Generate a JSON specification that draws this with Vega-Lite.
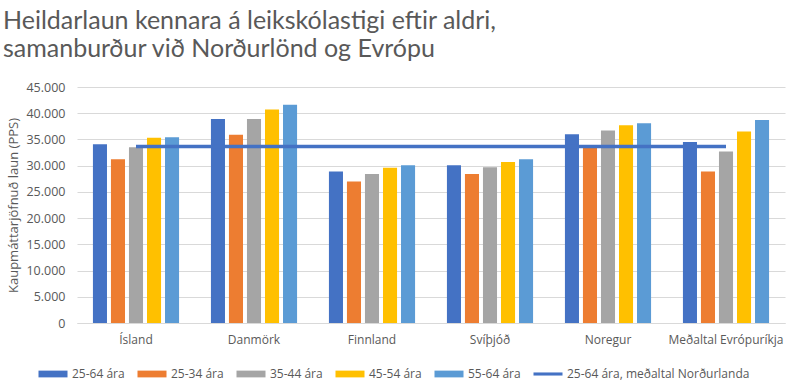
{
  "$schema": "https://vega.github.io/schema/vega-lite/v6.json",
  "width": 708,
  "height": 236,
  "autosize": {"type": "none"},
  "padding": {"left": 77, "top": 87, "right": 15, "bottom": 65},
  "background": "white",
  "title": {
    "text": ["Heildarlaun kennara á leikskólastigi eftir aldri,", "samanburður við Norðurlönd og Evrópu"],
    "anchor": "start",
    "frame": "bounds",
    "font": "Lato",
    "fontSize": 25,
    "fontWeight": "normal",
    "color": "#595959",
    "lineHeight": 28.5,
    "offset": 19,
    "dx": -5
  },
  "config": {
    "locale": {"number": {"decimal": ",", "thousands": ".", "grouping": [3], "currency": ["", " kr."]}},
    "view": {"stroke": null},
    "font": "Open Sans"
  },
  "datasets": {
    "bars": [
      {"land": "Ísland", "series": "25-64 ára", "value": 34100},
      {"land": "Ísland", "series": "25-34 ára", "value": 31200},
      {"land": "Ísland", "series": "35-44 ára", "value": 33500},
      {"land": "Ísland", "series": "45-54 ára", "value": 35300},
      {"land": "Ísland", "series": "55-64 ára", "value": 35400},
      {"land": "Danmörk", "series": "25-64 ára", "value": 38900},
      {"land": "Danmörk", "series": "25-34 ára", "value": 35900},
      {"land": "Danmörk", "series": "35-44 ára", "value": 38900},
      {"land": "Danmörk", "series": "45-54 ára", "value": 40700},
      {"land": "Danmörk", "series": "55-64 ára", "value": 41600},
      {"land": "Finnland", "series": "25-64 ára", "value": 28900},
      {"land": "Finnland", "series": "25-34 ára", "value": 27000},
      {"land": "Finnland", "series": "35-44 ára", "value": 28400},
      {"land": "Finnland", "series": "45-54 ára", "value": 29600},
      {"land": "Finnland", "series": "55-64 ára", "value": 30100},
      {"land": "Svíþjóð", "series": "25-64 ára", "value": 30100},
      {"land": "Svíþjóð", "series": "25-34 ára", "value": 28400},
      {"land": "Svíþjóð", "series": "35-44 ára", "value": 29700},
      {"land": "Svíþjóð", "series": "45-54 ára", "value": 30700},
      {"land": "Svíþjóð", "series": "55-64 ára", "value": 31200},
      {"land": "Noregur", "series": "25-64 ára", "value": 36000},
      {"land": "Noregur", "series": "25-34 ára", "value": 33600},
      {"land": "Noregur", "series": "35-44 ára", "value": 36700},
      {"land": "Noregur", "series": "45-54 ára", "value": 37700},
      {"land": "Noregur", "series": "55-64 ára", "value": 38100},
      {"land": "Meðaltal Evrópuríkja", "series": "25-64 ára", "value": 34500},
      {"land": "Meðaltal Evrópuríkja", "series": "25-34 ára", "value": 28900},
      {"land": "Meðaltal Evrópuríkja", "series": "35-44 ára", "value": 32700},
      {"land": "Meðaltal Evrópuríkja", "series": "45-54 ára", "value": 36500},
      {"land": "Meðaltal Evrópuríkja", "series": "55-64 ára", "value": 38700}
    ],
    "line": [
      {"land": "Ísland", "series": "25-64 ára, meðaltal Norðurlanda", "value": 33650},
      {"land": "Danmörk", "series": "25-64 ára, meðaltal Norðurlanda", "value": 33650},
      {"land": "Finnland", "series": "25-64 ára, meðaltal Norðurlanda", "value": 33650},
      {"land": "Svíþjóð", "series": "25-64 ára, meðaltal Norðurlanda", "value": 33650},
      {"land": "Noregur", "series": "25-64 ára, meðaltal Norðurlanda", "value": 33650},
      {"land": "Meðaltal Evrópuríkja", "series": "25-64 ára, meðaltal Norðurlanda", "value": 33650}
    ]
  },
  "encoding": {
    "x": {
      "field": "land",
      "type": "nominal",
      "sort": ["Ísland", "Danmörk", "Finnland", "Svíþjóð", "Noregur", "Meðaltal Evrópuríkja"],
      "scale": {"paddingInner": 0.27, "paddingOuter": 0.135},
      "axis": {
        "title": null,
        "labelAngle": 0,
        "labelFontSize": 12,
        "labelColor": "#595959",
        "labelPadding": 11,
        "ticks": false,
        "domainColor": "#d9d9d9",
        "domainWidth": 1
      }
    },
    "y": {
      "field": "value",
      "type": "quantitative",
      "scale": {"domain": [0, 45000], "nice": false},
      "axis": {
        "title": "Kaupmáttarjöfnuð laun (PPS)",
        "titleFontSize": 13,
        "titleFontWeight": "normal",
        "titleColor": "#595959",
        "titlePadding": 5,
        "values": [0, 5000, 10000, 15000, 20000, 25000, 30000, 35000, 40000, 45000],
        "format": ",d",
        "labelFontSize": 12.5,
        "labelColor": "#595959",
        "labelPadding": 12,
        "ticks": false,
        "domain": false,
        "gridColor": "#d9d9d9",
        "gridWidth": 1
      }
    },
    "color": {
      "field": "series",
      "type": "nominal",
      "scale": {
        "domain": ["25-64 ára", "25-34 ára", "35-44 ára", "45-54 ára", "55-64 ára", "25-64 ára, meðaltal Norðurlanda"],
        "range": ["#4472C4", "#ED7D31", "#A5A5A5", "#FFC000", "#5B9BD5", "#4472C4"]
      },
      "legend": {
        "title": null,
        "orient": "none",
        "direction": "horizontal",
        "columns": 6,
        "legendX": -34,
        "legendY": 277,
        "labelFontSize": 12,
        "labelColor": "#595959",
        "labelLimit": 0,
        "symbolSize": 374,
        "labelOffset": 9,
        "columnPadding": 12,
        "gridAlign": "none",
        "encode": {
          "symbols": {
            "update": {
              "shape": {"signal": "datum.value === '25-64 ára, meðaltal Norðurlanda' ? 'M-1.5,-0.16H1.5V0.16H-1.5Z' : 'M-1.5,-0.35H1.5V0.35H-1.5Z'"},
              "fill": {"signal": "scale('color', datum.value)"},
              "strokeWidth": {"value": 0},
              "opacity": {"value": 1}
            }
          }
        }
      }
    }
  },
  "layer": [
    {
      "data": {"name": "bars"},
      "mark": {"type": "bar"},
      "encoding": {
        "xOffset": {
          "field": "series",
          "type": "nominal",
          "sort": ["25-64 ára", "25-34 ára", "35-44 ára", "45-54 ára", "55-64 ára"],
          "scale": {"paddingInner": 0.22, "paddingOuter": 0}
        }
      }
    },
    {
      "data": {"name": "line"},
      "mark": {"type": "line", "strokeWidth": 3.5},
      "encoding": {}
    }
  ]
}
